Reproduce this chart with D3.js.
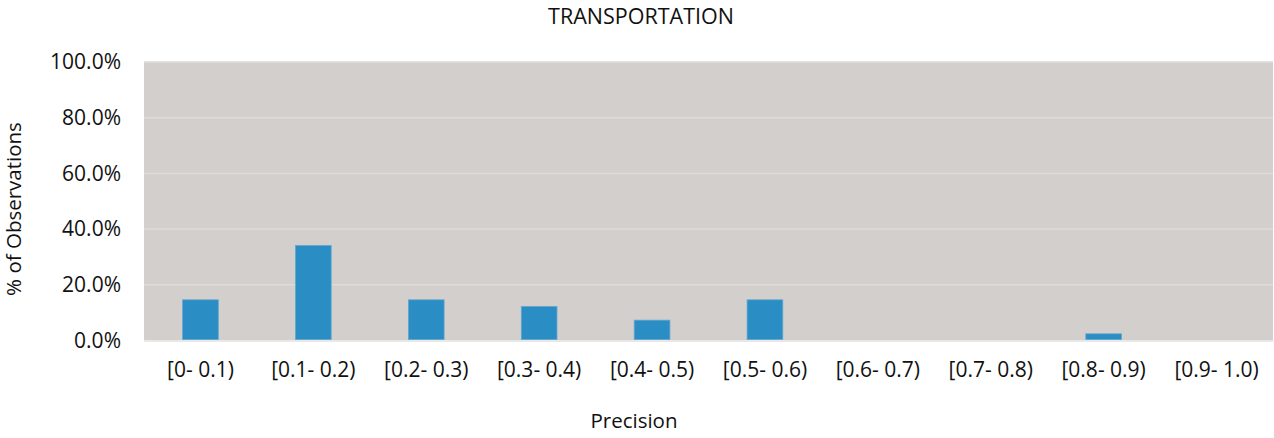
<!DOCTYPE html>
<html>
<head>
<meta charset="utf-8">
<script src="https://cdn.jsdelivr.net/npm/d3@7/dist/d3.min.js"></script>
<style>
  html, body { margin: 0; padding: 0; background: #fff; }
  svg { display: block; }
  text { font-family: "Open Sans", "Noto Sans", sans-serif; fill: #111; }
</style>
</head>
<body>
<svg id="chart" width="1274" height="438"></svg>
<script>
// Share of observations per precision bin (transportation)
const categories = ["[0- 0.1)", "[0.1- 0.2)", "[0.2- 0.3)", "[0.3- 0.4)", "[0.4- 0.5)",
                    "[0.5- 0.6)", "[0.6- 0.7)", "[0.7- 0.8)", "[0.8- 0.9)", "[0.9- 1.0)"];
const shares = [0.146, 0.341, 0.146, 0.122, 0.073, 0.146, 0, 0, 0.024, 0];
const yTicks = [0, 0.2, 0.4, 0.6, 0.8, 1.0];

const W = 1274, H = 438;
const plot = { left: 144, right: 1273, top: 62, bottom: 340.5 };

const svg = d3.select("#chart");

const x = d3.scaleBand()
  .domain(categories)
  .range([plot.left, plot.right])
  .paddingInner(0.684)
  .paddingOuter(0.342);

const y = d3.scaleLinear()
  .domain([0, 1])
  .range([plot.bottom, plot.top]);

// plot background
svg.append("rect")
  .attr("x", plot.left)
  .attr("y", plot.top)
  .attr("width", plot.right - plot.left)
  .attr("height", plot.bottom - plot.top)
  .attr("fill", "#d3cfcc");

// horizontal gridlines
svg.append("g")
  .selectAll("line")
  .data(yTicks.filter(d => d > 0))
  .join("line")
  .attr("x1", plot.left)
  .attr("x2", plot.right)
  .attr("y1", d => y(d))
  .attr("y2", d => y(d))
  .attr("stroke", "#dedbd8")
  .attr("stroke-width", 1.5);

// y axis labels
const yAxis = d3.axisLeft(y)
  .tickValues(yTicks)
  .tickFormat(d3.format(".1%"))
  .tickSize(0)
  .tickPadding(0);

svg.append("g")
  .attr("transform", `translate(${plot.left - 23},0)`)
  .call(yAxis)
  .call(g => g.select(".domain").remove())
  .call(g => g.selectAll("text")
    .attr("font-size", 21)
    .attr("fill", "#111")
    .style("font-family", "'Open Sans', sans-serif"));

// bars
svg.append("g")
  .selectAll("rect")
  .data(categories.map((c, i) => ({ c, v: shares[i] })).filter(d => d.v > 0))
  .join("rect")
  .attr("x", d => x(d.c))
  .attr("y", d => y(d.v))
  .attr("width", x.bandwidth())
  .attr("height", d => y(0) - y(d.v) - 1)
  .attr("fill", "#2a8dc4")
  .attr("stroke", "#5fa6cf")
  .attr("stroke-width", 0.8);

// x axis baseline and category labels
const xAxis = d3.axisBottom(x).tickSize(0).tickPadding(0);
svg.append("g")
  .attr("transform", `translate(0,${plot.bottom})`)
  .call(xAxis)
  .call(g => g.select(".domain")
    .attr("stroke", "#e8e8e8")
    .attr("stroke-width", 2))
  .call(g => g.selectAll("text")
    .attr("y", 36.5)
    .attr("dy", 0)
    .attr("font-size", 21)
    .attr("fill", "#111")
    .style("font-family", "'Open Sans', sans-serif"));

// title
svg.append("text")
  .attr("x", 641)
  .attr("y", 24)
  .attr("text-anchor", "middle")
  .attr("font-size", 21.5)
  .text("TRANSPORTATION");

// axis titles
svg.append("text")
  .attr("x", 634)
  .attr("y", 428)
  .attr("text-anchor", "middle")
  .attr("font-size", 20.5)
  .text("Precision");

svg.append("text")
  .attr("transform", "translate(21,209) rotate(-90)")
  .attr("text-anchor", "middle")
  .attr("font-size", 20.5)
  .text("% of Observations");
</script>
</body>
</html>
